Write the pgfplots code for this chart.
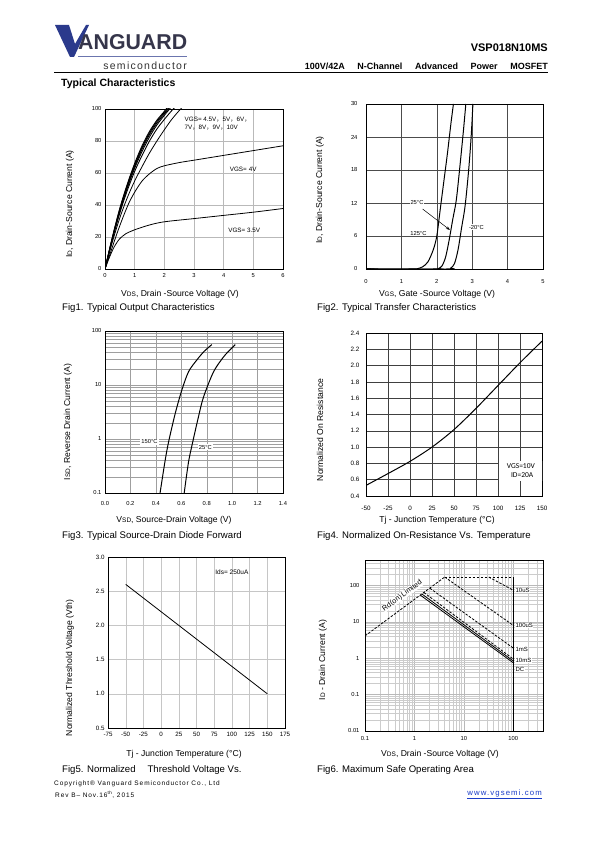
\documentclass[border=0pt]{standalone}
\usepackage{fontspec}
\setmainfont{Liberation Sans}
\newfontfamily\cjk{Noto Sans CJK SC}
\newfontfamily\carlito{Carlito}
\newfontfamily\lsfont[LetterSpace=12]{Liberation Sans}
\newfontfamily\lsfoot[LetterSpace=14]{Liberation Sans}
\usepackage{graphicx}
\usepackage{pgfplots}
\pgfplotsset{compat=1.18}
\usetikzlibrary{arrows.meta}
\definecolor{vgblue}{HTML}{2B3A8C}
\definecolor{vggray}{HTML}{35354A}
\definecolor{linkblue}{HTML}{1A3CC8}
\newcommand{\fs}[1]{\fontsize{#1}{#1}\selectfont}
\pgfplotsset{
  ds/.style={
    scale only axis, anchor=south west,
    axis line style={black, line width=0.7pt},
    grid=major,
    major grid style={gray!60, line width=0.4pt},
    major tick length=0pt, minor tick length=0pt,
    /pgf/number format/assume math mode=true,
    ticklabel style={font=\fs{5.8}},
  },
  onedec/.style={y tick label style={/pgf/number format/fixed, /pgf/number format/fixed zerofill, /pgf/number format/precision=1}},
}
\begin{document}
\begin{tikzpicture}
\fill[white] (0,0) rectangle (595pt,842pt);
\useasboundingbox (0,0) rectangle (595pt,842pt);

% ---------- header ----------
\fill[vgblue] (55pt,817pt) -- (69pt,817pt) -- (75pt,798pt) -- (86pt,817pt) -- (89pt,817pt) -- (74pt,785pt) -- (70pt,785pt) -- cycle;
\node[anchor=south west, inner sep=0pt, text=vggray] at (78pt,792pt) {\resizebox{109pt}{15pt}{\bfseries ANGUARD}};
\draw[vgblue!70, line width=0.6pt] (78pt,786pt) -- (187pt,786pt);
\node[anchor=south east, inner sep=0pt, text=black!80] at (187pt,772pt) {\lsfont\fs{10.5}semiconductor};
\draw[black, line width=1pt] (54pt,769pt) -- (548pt,769pt);
\node[anchor=east, inner sep=0pt] at (548pt,794pt) {\fs{11}\bfseries VSP018N10MS};
\node[anchor=east, inner sep=0pt] at (548pt,776pt) {\makebox[243pt][s]{\fs{9}\bfseries 100V/42A N-Channel Advanced Power MOSFET}};
\node[anchor=west, inner sep=0pt] at (61pt,758pt) {\fs{10.5}\bfseries Typical Characteristics};

% ---------- Fig1 ----------
\begin{axis}[ds, at={(105pt,573pt)}, width=178pt, height=160pt,
  xmin=0, xmax=6, ymin=0, ymax=100,
  xtick={0,1,2,3,4,5,6}, ytick={0,20,40,60,80,100},
  major grid style={gray!55, line width=0.4pt},
  xticklabel style={yshift=-1pt}]
\addplot[black, line width=0.8pt, smooth] coordinates {(0,0)(0.1,5)(0.2,9.5)(0.3,13.5)(0.4,16.5)(0.5,19)(0.7,22)(1,24.5)(1.5,27.5)(2,29.5)(3,31.5)(4,33.5)(5,35.5)(6,37.8)};
\addplot[black, line width=0.8pt, smooth] coordinates {(0,0)(0.2,11)(0.4,22)(0.6,32)(0.8,41)(1,48)(1.25,55)(1.5,59.5)(1.75,62.8)(2,64.5)(2.5,66.5)(3,68)(4,71)(5,74)(6,77)};
\addplot[black, line width=0.8pt, smooth] coordinates {(0,0)(0.25,17)(0.5,32)(0.75,44.5)(1,55)(1.25,64)(1.5,72.5)(1.75,80)(2,87)(2.25,93.5)(2.5,99)(2.6,101)};
\addplot[black, line width=0.9pt, smooth] coordinates {(0,0)(0.25,18.5)(0.5,35)(0.75,49)(1,61)(1.25,71)(1.5,80)(1.75,87.5)(2,93.5)(2.25,99)(2.35,101)};
\addplot[black, line width=0.9pt, smooth] coordinates {(0,0)(0.25,19)(0.5,36)(0.75,50.5)(1,63)(1.25,73.5)(1.5,82.5)(1.75,90)(2,96)(2.2,100.5)};
\addplot[black, line width=0.9pt, smooth] coordinates {(0,0)(0.25,19.4)(0.5,36.8)(0.75,51.5)(1,64)(1.25,75)(1.5,84)(1.75,91.2)(2,97)(2.16,100.5)};
\addplot[black, line width=0.9pt, smooth] coordinates {(0,0)(0.25,19.7)(0.5,37.4)(0.75,52.3)(1,65)(1.25,76)(1.5,85)(1.75,92.2)(2,97.8)(2.13,100.5)};
\addplot[black, line width=0.9pt, smooth] coordinates {(0,0)(0.25,20)(0.5,38)(0.75,53)(1,66)(1.25,77)(1.5,86)(1.75,93)(2,98.5)(2.1,101)};
\node[font=\fs{6.3}, anchor=west, align=left, inner sep=0pt] at (axis cs:2.68,91) {VGS= 4.5V{\cjk ，}5V{\cjk ，}6V{\cjk ，}\\[1.5pt]7V{\cjk ，}8V{\cjk ，}9V{\cjk ，}10V};
\node[font=\fs{6.3}, anchor=west, inner sep=0pt] at (axis cs:4.2,62) {VGS=\,\,4V};
\node[font=\fs{6.3}, anchor=west, inner sep=0pt] at (axis cs:4.15,24.4) {VGS= 3.5V};
\end{axis}

% ---------- Fig2 ----------
\begin{axis}[ds, at={(366pt,573pt)}, width=177pt, height=165pt,
  xmin=0, xmax=5, ymin=0, ymax=30,
  xtick={0,1,2,3,4,5}, ytick={0,6,12,18,24,30},
  major grid style={black!70, line width=0.4pt},
  xticklabel style={yshift=-7pt}, yticklabel style={xshift=-5pt}]
\addplot[black, line width=1pt, smooth] coordinates {(0,0)(1.3,0)(1.45,0.05)(1.6,0.4)(1.75,1.3)(1.9,3.5)(2.0,6)(2.1,11)(2.2,16)(2.3,21)(2.4,26.5)(2.47,30)};
\addplot[black, line width=1pt, smooth] coordinates {(0,0)(1.95,0)(2.05,0.1)(2.15,0.6)(2.25,2.2)(2.35,5.3)(2.45,9)(2.55,12.5)(2.65,18.5)(2.75,25)(2.82,30)};
\addplot[black, line width=1pt, smooth] coordinates {(0,0)(2.3,0)(2.4,0.2)(2.5,1)(2.6,3.5)(2.7,7.5)(2.8,11.5)(2.9,18)(2.97,24)(3.02,30)};
\node[font=\fs{5.8}, fill=white, inner sep=1pt] at (axis cs:1.44,12) {25°C};
\node[font=\fs{5.8}, fill=white, inner sep=1pt] at (axis cs:1.48,6.5) {125°C};
\node[font=\fs{5.8}, fill=white, inner sep=1pt] at (axis cs:3.12,7.6) {-20°C};
\draw[-{Stealth[length=4pt]}, line width=0.5pt] (axis cs:1.6,10.9) -- (axis cs:2.37,7.1);
\end{axis}

% ---------- Fig3 ----------
\begin{axis}[ds, at={(105pt,349pt)}, width=178pt, height=162pt,
  ymode=log, xmin=0, xmax=1.4, ymin=0.1, ymax=100,
  xtick={0,0.2,0.4,0.6,0.8,1.0,1.2,1.4},
  xticklabels={0.0,0.2,0.4,0.6,0.8,1.0,1.2,1.4},
  ytick={0.1,1,10,100}, yticklabels={0.1,1,10,100},
  minor ytick={0.2,0.3,0.4,0.5,0.6,0.7,0.8,0.9,2,3,4,5,6,7,8,9,20,30,40,50,60,70,80,90},
  grid=both,
  major grid style={gray!75, line width=0.4pt},
  minor grid style={gray!75, line width=0.4pt},
  xticklabel style={yshift=-5pt}]
\addplot[black, line width=1pt, smooth] coordinates {(0.433,0.1)(0.473,0.40)(0.5,0.88)(0.552,2.95)(0.604,8.0)(0.657,17.6)(0.722,29)(0.78,42)(0.84,56)};
\addplot[black, line width=1pt, smooth] coordinates {(0.623,0.1)(0.657,0.376)(0.69,0.88)(0.735,2.57)(0.775,6.0)(0.854,17.6)(0.932,33)(0.98,44)(1.025,56)};
\node[font=\fs{5.8}, fill=white, inner sep=1pt] at (axis cs:0.35,0.88) {150°C};
\node[font=\fs{5.8}, fill=white, inner sep=1pt] at (axis cs:0.79,0.71) {25°C};
\end{axis}

% ---------- Fig4 ----------
\begin{axis}[ds, onedec, at={(366pt,346pt)}, width=176pt, height=163pt,
  xmin=-50, xmax=150, ymin=0.4, ymax=2.4,
  xtick={-50,-25,0,25,50,75,100,125,150},
  ytick={0.4,0.6,0.8,1.0,1.2,1.4,1.6,1.8,2.0,2.2,2.4},
  major grid style={black!75, line width=0.45pt},
  ticklabel style={font=\fs{6.3}},
  xticklabel style={yshift=-7pt}, yticklabel style={xshift=-3pt}]
\addplot[black, line width=1pt, smooth] coordinates {(-50,0.53)(-25,0.675)(0,0.825)(25,1.0)(50,1.215)(75,1.475)(100,1.755)(125,2.035)(150,2.3)};
\node[fill=white, inner sep=2pt, align=center, font=\carlito\fs{7.5}, minimum width=44pt, minimum height=20pt] at (axis cs:126,0.71) {VGS=10V\\[1pt]\,\,ID=20A};
\end{axis}

% ---------- Fig5 ----------
\begin{axis}[ds, onedec, at={(108pt,114pt)}, width=177pt, height=171pt,
  xmin=-75, xmax=175, ymin=0.5, ymax=3,
  xtick={-75,-50,-25,0,25,50,75,100,125,150,175},
  ytick={0.5,1.0,1.5,2.0,2.5,3.0},
  major grid style={gray!45, line width=0.4pt},
  axis line style={black, line width=0.9pt},
  ticklabel style={font=\fs{6.2}},
  xticklabel style={yshift=-1pt}]
\addplot[black, line width=0.8pt] coordinates {(-50,2.6)(150,1.0)};
\node[font=\fs{6.5}] at (axis cs:100,2.78) {Ids= 250uA};
\end{axis}

% ---------- Fig6 ----------
\begin{axis}[ds, at={(365pt,111pt)}, width=178pt, height=171pt,
  xmode=log, ymode=log, xmin=0.1, xmax=400, ymin=0.01, ymax=500,
  xtick={0.1,1,10,100}, xticklabels={0.1,1,10,100},
  ytick={0.01,0.1,1,10,100}, yticklabels={0.01,0.1,1,10,100},
  minor xtick={0.2,0.3,0.4,0.5,0.6,0.7,0.8,0.9,2,3,4,5,6,7,8,9,20,30,40,50,60,70,80,90,200,300},
  minor ytick={0.02,0.03,0.04,0.05,0.06,0.07,0.08,0.09,0.2,0.3,0.4,0.5,0.6,0.7,0.8,0.9,2,3,4,5,6,7,8,9,20,30,40,50,60,70,80,90,200,300,400},
  grid=both,
  major grid style={gray!55, line width=0.4pt},
  minor grid style={gray!40, line width=0.4pt},
  axis line style={black, line width=0.9pt},
  xticklabel style={yshift=-2pt}, yticklabel style={xshift=-2pt}]
\addplot[black, line width=0.8pt, dash pattern=on 2.5pt off 1.5pt] coordinates {(0.1,4.1)(4.1,170)};
\addplot[black, line width=0.8pt, dash pattern=on 2.5pt off 1.5pt] coordinates {(4.1,170)(100,170)};
\addplot[black, line width=0.8pt, dash pattern=on 2.5pt off 1.5pt] coordinates {(32,170)(100,74)};
\addplot[black, line width=0.8pt, dash pattern=on 2.5pt off 1.5pt] coordinates {(4.1,170)(100,8)};
\addplot[black, line width=0.8pt, dash pattern=on 2.5pt off 1.5pt] coordinates {(2.05,84)(100,1.9)};
\addplot[black, line width=0.8pt, dash pattern=on 2.5pt off 1.5pt] coordinates {(1.55,64)(100,0.95)};
\addplot[black, line width=0.8pt] coordinates {(1.42,58)(100,0.84)};
\addplot[black, line width=0.8pt] coordinates {(1.32,54)(100,0.75)};
\addplot[black, line width=1pt] coordinates {(100,170)(100,0.01)};
\node[font=\fs{7.3}, rotate=36, fill=white, inner sep=0.3pt] at (axis cs:0.57,52) {Rd(on)\,Limited};
\node[font=\fs{6}, anchor=west, fill=white, inner sep=0.5pt] at (axis cs:108,71) {10uS};
\node[font=\fs{6}, anchor=west, fill=white, inner sep=0.5pt] at (axis cs:108,8) {100uS};
\node[font=\fs{6}, anchor=west, fill=white, inner sep=0.5pt] at (axis cs:108,1.75) {1mS};
\node[font=\fs{6}, anchor=west, fill=white, inner sep=0.5pt] at (axis cs:108,0.88) {10mS};
\node[font=\fs{6}, anchor=west, fill=white, inner sep=0.5pt] at (axis cs:108,0.48) {DC};
\end{axis}

% ---------- axis labels ----------
\node[rotate=90, font=\fs{8.6}] at (70pt,638pt) {I{\fs{6.5}D}, Drain-Source Current (A)};
\node[rotate=90, font=\fs{8.6}] at (320pt,652pt) {I{\fs{6.5}D}, Drain-Source Current (A)};
\node[rotate=90, font=\fs{8.6}] at (68pt,420pt) {I{\fs{6.5}SD}, Reverse Drain Current (A)};
\node[rotate=90, font=\fs{8.6}] at (320pt,412pt) {Normalized On Resistance};
\node[rotate=90, font=\fs{8.6}] at (70pt,174pt) {Normalized Threshold Voltage (Vth)};
\node[rotate=90, font=\fs{8.6}] at (323pt,182pt) {I{\fs{6.5}D} - Drain Current (A)};

\node[font=\fs{8.6}] at (180pt,548pt) {V{\fs{6.5}DS}, Drain -Source Voltage (V)};
\node[font=\fs{8.6}] at (437pt,548pt) {V{\fs{6.5}GS}, Gate -Source Voltage (V)};
\node[font=\fs{8.6}] at (174pt,322pt) {V{\fs{6.5}SD}, Source-Drain Voltage (V)};
\node[font=\fs{8.6}] at (437pt,322pt) {Tj - Junction Temperature (°C)};
\node[font=\fs{8.6}] at (184pt,88pt) {Tj - Junction Temperature (°C)};
\node[font=\fs{8.6}] at (440pt,88pt) {V{\fs{6.5}DS}, Drain -Source Voltage (V)};

% ---------- captions ----------
\node[anchor=west, inner sep=0pt, font=\fs{9.6}] at (62pt,534pt) {Fig1. Typical Output Characteristics};
\node[anchor=west, inner sep=0pt, font=\fs{9.6}] at (317pt,534pt) {Fig2. Typical Transfer Characteristics};
\node[anchor=west, inner sep=0pt, font=\fs{9.6}] at (62pt,306pt) {Fig3. Typical Source-Drain Diode Forward};
\node[anchor=west, inner sep=0pt, font=\fs{9.6}] at (317pt,306pt) {Fig4. Normalized On-Resistance Vs. Temperature};
\node[anchor=west, inner sep=0pt, font=\fs{9.6}] at (62pt,72pt) {Fig5. Normalized\hspace{12pt}Threshold Voltage Vs.};
\node[anchor=west, inner sep=0pt, font=\fs{9.6}] at (317pt,72pt) {Fig6. Maximum Safe Operating Area};

% ---------- footer ----------
\node[anchor=west, inner sep=0pt, font=\lsfoot\fs{6.5}] at (54pt,58pt) {Copyright® Vanguard Semiconductor Co., Ltd};
\node[anchor=west, inner sep=0pt, font=\lsfoot\fs{6.5}] at (55pt,47pt) {Rev B– Nov.16\textsuperscript{th}, 2015};
\node[anchor=east, inner sep=0pt, font=\lsfoot\fs{7.8}, text=linkblue] at (542pt,48pt) {\underline{www.vgsemi.com}};
\end{tikzpicture}
\end{document}
